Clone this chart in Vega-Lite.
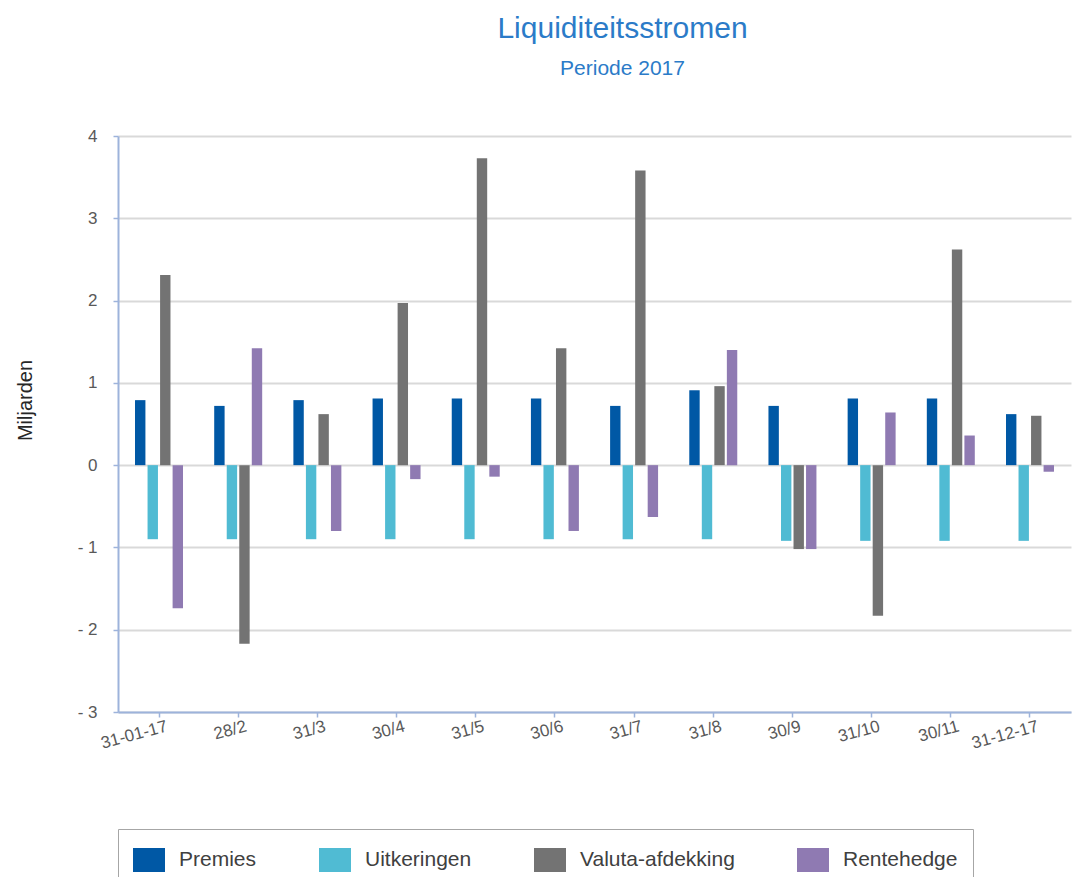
{
  "$schema": "https://vega.github.io/schema/vega-lite/v6.json",
  "width": 953,
  "height": 576,
  "autosize": "none",
  "padding": {"left": 118, "top": 136, "right": 13, "bottom": 165},
  "background": "white",
  "title": {
    "text": "Liquiditeitsstromen",
    "subtitle": "Periode 2017",
    "color": "#2B7BC8",
    "subtitleColor": "#2B7BC8",
    "font": "Liberation Sans",
    "subtitleFont": "Liberation Sans",
    "fontSize": 30,
    "subtitleFontSize": 21,
    "fontWeight": "normal",
    "anchor": "middle",
    "offset": 48,
    "subtitlePadding": 14,
    "dx": 28
  },
  "config": {
    "view": {"stroke": null},
    "font": "Liberation Sans"
  },
  "data": {
    "values": [
      {"date": "31-01-17", "series": "Premies", "value": 0.79},
      {"date": "31-01-17", "series": "Uitkeringen", "value": -0.9},
      {"date": "31-01-17", "series": "Valuta-afdekking", "value": 2.31},
      {"date": "31-01-17", "series": "Rentehedge", "value": -1.74},
      {"date": "28/2", "series": "Premies", "value": 0.72},
      {"date": "28/2", "series": "Uitkeringen", "value": -0.9},
      {"date": "28/2", "series": "Valuta-afdekking", "value": -2.17},
      {"date": "28/2", "series": "Rentehedge", "value": 1.42},
      {"date": "31/3", "series": "Premies", "value": 0.79},
      {"date": "31/3", "series": "Uitkeringen", "value": -0.9},
      {"date": "31/3", "series": "Valuta-afdekking", "value": 0.62},
      {"date": "31/3", "series": "Rentehedge", "value": -0.8},
      {"date": "30/4", "series": "Premies", "value": 0.81},
      {"date": "30/4", "series": "Uitkeringen", "value": -0.9},
      {"date": "30/4", "series": "Valuta-afdekking", "value": 1.97},
      {"date": "30/4", "series": "Rentehedge", "value": -0.17},
      {"date": "31/5", "series": "Premies", "value": 0.81},
      {"date": "31/5", "series": "Uitkeringen", "value": -0.9},
      {"date": "31/5", "series": "Valuta-afdekking", "value": 3.73},
      {"date": "31/5", "series": "Rentehedge", "value": -0.14},
      {"date": "30/6", "series": "Premies", "value": 0.81},
      {"date": "30/6", "series": "Uitkeringen", "value": -0.9},
      {"date": "30/6", "series": "Valuta-afdekking", "value": 1.42},
      {"date": "30/6", "series": "Rentehedge", "value": -0.8},
      {"date": "31/7", "series": "Premies", "value": 0.72},
      {"date": "31/7", "series": "Uitkeringen", "value": -0.9},
      {"date": "31/7", "series": "Valuta-afdekking", "value": 3.58},
      {"date": "31/7", "series": "Rentehedge", "value": -0.63},
      {"date": "31/8", "series": "Premies", "value": 0.91},
      {"date": "31/8", "series": "Uitkeringen", "value": -0.9},
      {"date": "31/8", "series": "Valuta-afdekking", "value": 0.96},
      {"date": "31/8", "series": "Rentehedge", "value": 1.4},
      {"date": "30/9", "series": "Premies", "value": 0.72},
      {"date": "30/9", "series": "Uitkeringen", "value": -0.92},
      {"date": "30/9", "series": "Valuta-afdekking", "value": -1.02},
      {"date": "30/9", "series": "Rentehedge", "value": -1.02},
      {"date": "31/10", "series": "Premies", "value": 0.81},
      {"date": "31/10", "series": "Uitkeringen", "value": -0.92},
      {"date": "31/10", "series": "Valuta-afdekking", "value": -1.83},
      {"date": "31/10", "series": "Rentehedge", "value": 0.64},
      {"date": "30/11", "series": "Premies", "value": 0.81},
      {"date": "30/11", "series": "Uitkeringen", "value": -0.92},
      {"date": "30/11", "series": "Valuta-afdekking", "value": 2.62},
      {"date": "30/11", "series": "Rentehedge", "value": 0.36},
      {"date": "31-12-17", "series": "Premies", "value": 0.62},
      {"date": "31-12-17", "series": "Uitkeringen", "value": -0.92},
      {"date": "31-12-17", "series": "Valuta-afdekking", "value": 0.6},
      {"date": "31-12-17", "series": "Rentehedge", "value": -0.08}
    ]
  },
  "mark": {"type": "bar"},
  "encoding": {
    "x": {
      "field": "date",
      "type": "nominal",
      "sort": null,
      "scale": {"paddingInner": 0.394, "paddingOuter": 0.215},
      "axis": {
        "title": null,
        "labelAngle": -15,
        "labelAlign": "right",
        "labelBaseline": "top",
        "labelFontSize": 17,
        "labelColor": "#595959",
        "labelPadding": 1,
        "labelOffset": 6,
        "domainColor": "#9DB3DB",
        "domainWidth": 2,
        "tickColor": "#9DB3DB",
        "tickSize": 5,
        "tickWidth": 1.5,
        "grid": false
      }
    },
    "xOffset": {
      "field": "series",
      "type": "nominal",
      "sort": ["Premies", "Uitkeringen", "Valuta-afdekking", "Rentehedge"],
      "scale": {"paddingInner": 0.17, "paddingOuter": 0}
    },
    "y": {
      "field": "value",
      "type": "quantitative",
      "scale": {"domain": [-3, 4], "nice": false},
      "axis": {
        "title": "Miljarden",
        "titleFontSize": 20,
        "titleFontWeight": "normal",
        "titleColor": "#262626",
        "titleX": -93,
        "titleY": 264,
        "titleBaseline": "middle",
        "titleAngle": -90,
        "values": [-3, -2, -1, 0, 1, 2, 3, 4],
        "labelExpr": "datum.value < 0 ? '- ' + abs(datum.value) : datum.label",
        "labelFontSize": 17,
        "labelColor": "#595959",
        "labelPadding": 16,
        "domainColor": "#9DB3DB",
        "domainWidth": 2,
        "tickColor": "#9DB3DB",
        "tickSize": 5,
        "tickWidth": 1.5,
        "grid": true,
        "gridColor": "#D9D9D9",
        "gridWidth": 2
      }
    },
    "color": {
      "field": "series",
      "type": "nominal",
      "scale": {
        "domain": ["Premies", "Uitkeringen", "Valuta-afdekking", "Rentehedge"],
        "range": ["#0058A5", "#50BBD3", "#737373", "#8F7AB2"]
      },
      "legend": {
        "title": null,
        "orient": "bottom",
        "direction": "horizontal",
        "symbolType": "M-1,-0.75H1V0.75H-1Z",
        "symbolSize": 1024,
        "symbolStrokeWidth": 0,
        "symbolOpacity": 1,
        "labelFontSize": 21,
        "labelColor": "#404040",
        "labelOffset": 14,
        "columnPadding": 62,
        "padding": 15,
        "strokeColor": "#A6A6A6",
        "offset": 77
      }
    }
  }
}
